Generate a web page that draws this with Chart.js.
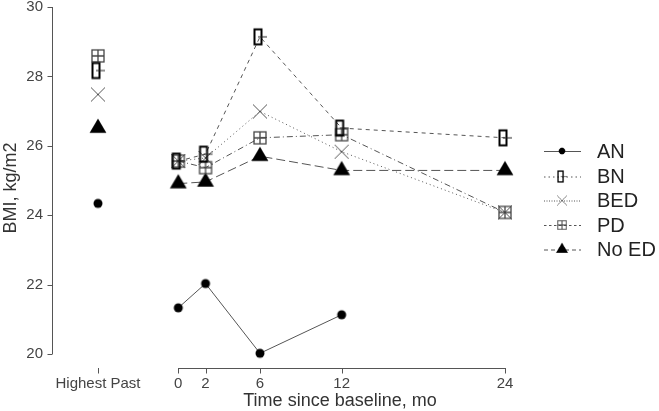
<!DOCTYPE html>
<html>
<head>
<meta charset="utf-8">
<script src="https://cdn.jsdelivr.net/npm/chart.js@4/dist/chart.umd.min.js"></script>
<style>
html,body{margin:0;padding:0;background:#fff;}
#c{display:block;}
</style>
</head>
<body>
<canvas id="c" width="659" height="411"></canvas>
<script>
// ---- data ----
const timeLabels = ['Highest Past', '0', '2', '6', '12', '24'];
const timeValues = [-5.9, 0, 2, 6, 12, 24];
const seriesNames = ['AN', 'BN', 'BED', 'PD', 'No ED'];
const anValues   = [24.34, 21.33, 22.03, 20.02, 21.13, null];
const bnValues   = [28.17, 25.56, 25.76, 29.14, 26.51, 26.23];
const bedValues  = [27.48, 25.56, 25.65, 26.99, 25.83, 24.08];
const pdValues   = [28.59, 25.56, 25.37, 26.23, 26.32, 24.08];
const noEdValues = [26.51, 24.91, 24.96, 25.70, 25.29, 25.29];
const yTicks = [20, 22, 24, 26, 28, 30];
const xTitle = 'Time since baseline, mo';
const yTitle = 'BMI, kg/m2';

// ---- marker canvases ----
function mk(w, h, fn) {
  const c = document.createElement('canvas');
  c.width = w; c.height = h;
  fn(c.getContext('2d'), w / 2, h / 2);
  return c;
}
const mAN = mk(12, 12, (g, cx, cy) => {
  g.fillStyle = '#000'; g.beginPath(); g.arc(cx, cy, 4.5, 0, Math.PI * 2); g.fill();
});
const mBN = mk(24, 24, (g, cx, cy) => {
  g.strokeStyle = '#000'; g.lineWidth = 2;
  g.strokeRect(cx - 5.5, cy - 7.5, 7, 15);
  g.lineWidth = 1; g.strokeStyle = '#222';
  g.beginPath(); g.moveTo(cx - 2, cy); g.lineTo(cx + 7, cy); g.stroke();
});
const mBED = mk(18, 18, (g, cx, cy) => {
  g.strokeStyle = '#555'; g.lineWidth = 1;
  g.beginPath();
  g.moveTo(cx - 7, cy - 7); g.lineTo(cx + 7, cy + 7);
  g.moveTo(cx + 7, cy - 7); g.lineTo(cx - 7, cy + 7);
  g.stroke();
});
const mPD = mk(18, 18, (g, cx, cy) => {
  g.strokeStyle = '#444'; g.lineWidth = 1.3;
  g.strokeRect(cx - 6, cy - 6, 12, 12);
  g.beginPath();
  g.moveTo(cx, cy - 6); g.lineTo(cx, cy + 6);
  g.moveTo(cx - 6, cy); g.lineTo(cx + 6, cy);
  g.stroke();
});
const mNoED = mk(22, 22, (g, cx, cy) => {
  g.fillStyle = '#000'; g.beginPath();
  g.moveTo(cx, cy - 9.6); g.lineTo(cx - 8.4, cy + 4.8); g.lineTo(cx + 8.4, cy + 4.8);
  g.closePath(); g.fill();
});

function pts(vals) {
  return timeValues.map((t, i) => ({ x: t, y: vals[i] }));
}
const skipFirst = ctx => ctx.p0DataIndex === 0 ? 'rgba(0,0,0,0)' : undefined;

const seriesVals = [anValues, bnValues, bedValues, pdValues, noEdValues];
const markers = [mAN, mBN, mBED, mPD, mNoED];
const dashes = [[], [4, 4], [1, 3], [6, 3, 1, 3], [9, 4]];
const legendDashes = [[], [1.5, 3], [1, 1.5], [2.5, 2.5], [4, 3]];

const datasets = seriesNames.map((n, i) => ({
  label: n,
  data: pts(seriesVals[i]),
  borderColor: '#555',
  borderWidth: 1,
  borderDash: dashes[i],
  pointStyle: markers[i],
  pointRadius: 6,
  showLine: true,
  fill: false,
  tension: 0,
  spanGaps: false,
  clip: false,
  segment: { borderColor: skipFirst }
}));
// draw order: lines beneath, markers on top handled by chart; put PD under BN
datasets.forEach((d, i) => d.order = [1, 0, 3, 2, 4][i]);

const FONT = '"Liberation Sans", Arial, sans-serif';

const rAxes = {
  id: 'rAxes',
  afterDraw(chart) {
    const g = chart.ctx;
    const xs = chart.scales.x, ys = chart.scales.y;
    g.save();
    g.strokeStyle = '#555'; g.lineWidth = 1;
    // y axis
    const yx = chart.chartArea.left + 0.5;
    g.beginPath();
    g.moveTo(yx, ys.getPixelForValue(yTicks[0]));
    g.lineTo(yx, ys.getPixelForValue(yTicks[yTicks.length - 1]));
    yTicks.forEach(v => {
      const p = Math.round(ys.getPixelForValue(v)) + 0.5;
      g.moveTo(yx, p); g.lineTo(yx - 5, p);
    });
    g.stroke();
    g.fillStyle = '#444';
    g.font = '15px ' + FONT;
    g.textAlign = 'right'; g.textBaseline = 'middle';
    yTicks.forEach(v => g.fillText(String(v), 43, ys.getPixelForValue(v)));
    // x axis
    const ay = 368.5;
    g.beginPath();
    g.moveTo(xs.getPixelForValue(timeValues[1]), ay);
    g.lineTo(xs.getPixelForValue(timeValues[timeValues.length - 1]), ay);
    timeValues.forEach(t => {
      const p = Math.round(xs.getPixelForValue(t)) + 0.5;
      g.moveTo(p, ay - 0.5); g.lineTo(p, ay + 5);
    });
    g.stroke();
    g.textAlign = 'center'; g.textBaseline = 'top';
    timeValues.forEach((t, i) => g.fillText(timeLabels[i], xs.getPixelForValue(t), 376));
    // titles
    g.fillStyle = '#333';
    g.font = '18px ' + FONT;
    g.textBaseline = 'alphabetic';
    g.fillText(xTitle, 340, 406);
    g.save();
    g.translate(16, 188);
    g.rotate(-Math.PI / 2);
    g.fillText(yTitle, 0, 0);
    g.restore();
    // legend
    const ly = [151, 176.5, 200.5, 225, 249.5];
    seriesNames.forEach((n, i) => {
      g.strokeStyle = '#555'; g.lineWidth = 1;
      g.setLineDash(legendDashes[i]);
      g.beginPath(); g.moveTo(544, ly[i] + 0.5); g.lineTo(581, ly[i] + 0.5); g.stroke();
      g.setLineDash([]);
      const m = markers[i], s = 0.72;
      g.drawImage(m, 562 - m.width * s / 2, ly[i] - m.height * s / 2, m.width * s, m.height * s);
      g.fillStyle = '#222';
      g.font = '20px ' + FONT;
      g.textAlign = 'left'; g.textBaseline = 'middle';
      g.fillText(n, 597, ly[i] + 1);
    });
    g.restore();
  }
};

new Chart(document.getElementById('c'), {
  type: 'line',
  data: { datasets },
  options: {
    responsive: false,
    devicePixelRatio: 1,
    animation: false,
    parsing: true,
    layout: { padding: { left: 52, top: 5, right: 129, bottom: 57 } },
    plugins: { legend: { display: false }, tooltip: { enabled: false } },
    scales: {
      x: { type: 'linear', min: -9.278, max: 25.837, display: false },
      y: { type: 'linear', min: 20, max: 30, display: false }
    }
  },
  plugins: [rAxes]
});
</script>
</body>
</html>
